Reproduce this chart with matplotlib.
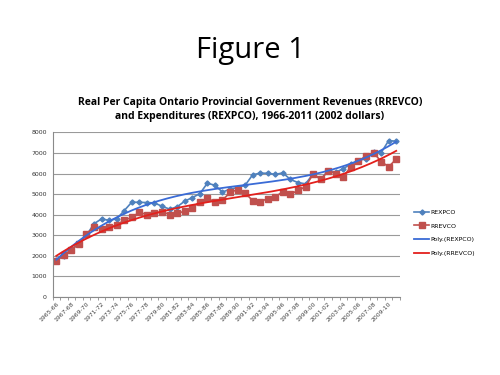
import numpy as np
import matplotlib
matplotlib.use("Agg")
import matplotlib.pyplot as plt

# fiscal years 1965-66 .. 2010-11
years = ["%d-%02d" % (y, (y + 1) % 100) for y in range(1965, 2011)]

rexpco = [1780, 2000, 2300, 2600, 3000, 3560, 3800, 3720, 3800, 4200,
          4610, 4600, 4590, 4570, 4410, 4270, 4380, 4660, 4830, 5020,
          5530, 5430, 5100, 5240, 5320, 5430, 5940, 6020, 6010, 5960,
          6030, 5710, 5560, 5500, 5980, 5720, 6140, 6060, 6240, 6460,
          6620, 6730, 7030, 7010, 7600, 7570]

rrevco = [1770, 2030, 2300, 2580, 3060, 3400, 3300, 3400, 3500, 3730,
          3870, 4120, 4000, 4060, 4150, 4000, 4080, 4160, 4330, 4620,
          4800, 4620, 4700, 5080, 5220, 5060, 4680, 4640, 4780, 4870,
          5120, 4990, 5180, 5360, 5980, 5720, 6110, 6000, 5850, 6330,
          6590, 6870, 7020, 6580, 6330, 6700]

x = np.arange(len(years))

fig = plt.figure(figsize=(5, 3.75), dpi=100)
fig.text(0.5, 0.865, "Figure 1", ha="center", va="center", fontsize=21,
         family="Open Sans")
fig.text(0.5, 0.707, "Real Per Capita Ontario Provincial Government Revenues (RREVCO)\n"
         "and Expenditures (REXPCO), 1966-2011 (2002 dollars)",
         ha="center", va="center", fontsize=7.5, fontweight="bold",
         linespacing=1.35, family="Open Sans")

ax = fig.add_axes([0.105, 0.208, 0.695, 0.439])

blue = "#4F81BD"
red = "#C0504D"
ax.plot(x, rexpco, color=blue, marker="D", markersize=2.6, lw=1.2, label="REXPCO")
ax.plot(x, rrevco, color=red, marker="s", markersize=4.3, lw=1.2, label="RREVCO")

# polynomial trend lines (order 3) like Excel
xs = np.linspace(0, len(x) - 1, 200)
pb = np.polyfit(x, rexpco, 3)
pr = np.polyfit(x, rrevco, 3)
ax.plot(xs, np.polyval(pb, xs), color="#3A6BD6", lw=1.3, label="Poly.(REXPCO)")
ax.plot(xs, np.polyval(pr, xs), color="#E3201C", lw=1.3, label="Poly.(RREVCO)")

ax.set_xlim(-0.5, len(x) - 0.5)
ax.set_ylim(0, 8000)
ax.set_yticks(range(0, 8001, 1000))
ax.yaxis.grid(True, color="#9a9a9a", lw=0.8)
ax.set_axisbelow(True)
ax.tick_params(axis="y", length=0, labelsize=4.5, pad=4, labelcolor="#333333")

ax.set_xticks(x[::2])
ax.set_xticklabels(years[::2], rotation=45, ha="right", rotation_mode="anchor",
                   fontsize=4.4, color="#444444")
ax.set_xticks(np.arange(-0.5, len(x), 1), minor=True)
ax.tick_params(axis="x", which="major", length=0, pad=3)
ax.tick_params(axis="x", which="minor", length=2.5, color="#8a8a8a")

for s in ["top", "right"]:
    ax.spines[s].set_visible(False)
for s in ["left", "bottom"]:
    ax.spines[s].set_color("#8a8a8a")
    ax.spines[s].set_linewidth(0.8)

ax.legend(loc="center left", bbox_to_anchor=(1.025, 0.39), frameon=False,
          fontsize=4.5, handlelength=2.4, labelspacing=1.35, handletextpad=0.2)

fig.savefig("out.png", dpi=100)
